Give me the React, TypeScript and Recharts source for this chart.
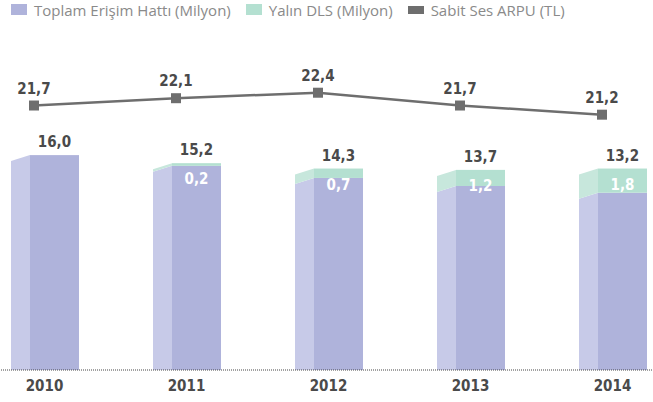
import React from 'react';
import { ComposedChart, Bar, Line, XAxis, YAxis, LabelList } from 'recharts';

const years = ['2010', '2011', '2012', '2013', '2014'];
const toplamHat = [16.0, 15.2, 14.3, 13.7, 13.2];
const yalinDls = [0, 0.2, 0.7, 1.2, 1.8];
const sabitArpu = [21.7, 22.1, 22.4, 21.7, 21.2];

const seriesNames = ['Toplam Erişim Hattı (Milyon)', 'Yalın DLS (Milyon)', 'Sabit Ses ARPU (TL)'];

const data = years.map((year, i) => ({
  year,
  toplam: toplamHat[i],
  dls: yalinDls[i],
  arpu: sabitArpu[i],
}));

const PURPLE = '#afb3db';
const PURPLE_SIDE = '#c7cae8';
const GREEN = '#b4e0d1';
const GREEN_SIDE = '#c7e7dc';
const LINE = '#6e6e6e';
const LABEL = '#4a4a4a';
const SIDE_W = 19;
const SLANT = 6;
const condensed = "'DejaVu Sans Condensed', 'Liberation Sans Narrow', sans-serif";

const fmt = (v: number) => v.toFixed(1).replace('.', ',');

const PurpleShape = (props: any) => {
  const { x, y, width, height } = props;
  if (!height || height <= 0) return null;
  const bottom = y + height;
  return (
    <g>
      <polygon points={`${x - SIDE_W},${y + SLANT} ${x},${y} ${x},${bottom} ${x - SIDE_W},${bottom}`} fill={PURPLE_SIDE} />
      <rect x={x} y={y} width={width} height={height} fill={PURPLE} />
    </g>
  );
};

const GreenShape = (props: any) => {
  const { x, y, width, height } = props;
  if (!height || height <= 0) return null;
  return (
    <g>
      <polygon points={`${x - SIDE_W},${y + SLANT} ${x},${y} ${x},${y + height} ${x - SIDE_W},${y + height + SLANT}`} fill={GREEN_SIDE} />
      <rect x={x} y={y} width={width} height={height} fill={GREEN} />
    </g>
  );
};

// total above the stack, DLS value in white just under the top
const StackLabels = (props: any) => {
  const { x, y, width, value, index } = props;
  const cx = x + width / 2;
  return (
    <g>
      <text x={cx} y={y - 8} textAnchor="middle" fill={LABEL} fontFamily={condensed} fontWeight="bold" fontSize={15}>
        {fmt(toplamHat[index])}
      </text>
      {value > 0 && (
        <text x={cx} y={y + 16} textAnchor="middle" dominantBaseline="central" fill="#ffffff" fontFamily={condensed} fontWeight="bold" fontSize={15}>
          {fmt(value)}
        </text>
      )}
    </g>
  );
};

const LineLabel = (props: any) => {
  const { x, y, value } = props;
  return (
    <text x={x} y={y - 12} textAnchor="middle" fill={LABEL} fontFamily={condensed} fontWeight="bold" fontSize={15}>
      {fmt(value)}
    </text>
  );
};

const SquareDot = (props: any) => {
  const { cx, cy, index } = props;
  return <rect key={`dot-${index}`} x={cx - 5} y={cy - 5} width={10} height={10} fill={LINE} />;
};

const YearTick = (props: any) => {
  const { x, y, payload } = props;
  return (
    <text x={x - 9.5} y={y + 8} textAnchor="middle" dominantBaseline="central" fill={LABEL} fontFamily={condensed} fontWeight="bold" fontSize={15}>
      {payload.value}
    </text>
  );
};

const legendItems = [
  { name: seriesNames[0], color: PURPLE, h: 11 },
  { name: seriesNames[1], color: GREEN, h: 11 },
  { name: seriesNames[2], color: LINE, h: 8 },
];

export default function App() {
  return (
    <div style={{ position: 'absolute', left: 0, top: 0, width: 653, height: 402, overflow: 'hidden', background: '#fff' }}>
      {/* Legend */}
      <div style={{ position: 'absolute', left: 11, top: 0, height: 19, display: 'flex', alignItems: 'center', gap: 15, fontFamily: "'Open Sans', sans-serif", fontSize: 15, color: '#8a8a8a', whiteSpace: 'nowrap' }}>
        {legendItems.map(item => (
          <div key={item.name} style={{ display: 'flex', alignItems: 'center', gap: 7 }}>
            <div style={{ width: 16, height: item.h, background: item.color }} />
            <span>{item.name}</span>
          </div>
        ))}
      </div>

      <div style={{ position: 'absolute', left: -37, top: 0 }}>
        <ComposedChart width={730} height={402} data={data} margin={{ top: 40, right: 0, bottom: 0, left: 0 }}>
          <XAxis
            dataKey="year"
            interval={0}
            height={32}
            tickLine={false}
            axisLine={{ stroke: '#444', strokeDasharray: '1 1' }}
            tick={<YearTick />}
            padding={{ left: 20, right: 0 }}
          />
          <XAxis xAxisId="line" dataKey="year" hide padding={{ left: 0, right: 20 }} />
          <YAxis yAxisId="bar" domain={[0, 24.57]} hide allowDataOverflow />
          <YAxis yAxisId="line" domain={[7.25, 25.28]} hide allowDataOverflow />
          <Bar yAxisId="bar" dataKey="toplam" stackId="a" barSize={49} shape={PurpleShape} isAnimationActive={false} />
          <Bar yAxisId="bar" dataKey="dls" stackId="a" barSize={49} shape={GreenShape} isAnimationActive={false}>
            <LabelList dataKey="dls" content={StackLabels} />
          </Bar>
          <Line
            xAxisId="line"
            yAxisId="line"
            type="linear"
            dataKey="arpu"
            stroke={LINE}
            strokeWidth={2.5}
            dot={SquareDot}
            activeDot={false}
            isAnimationActive={false}
          >
            <LabelList dataKey="arpu" content={LineLabel} />
          </Line>
        </ComposedChart>
      </div>
    </div>
  );
}
